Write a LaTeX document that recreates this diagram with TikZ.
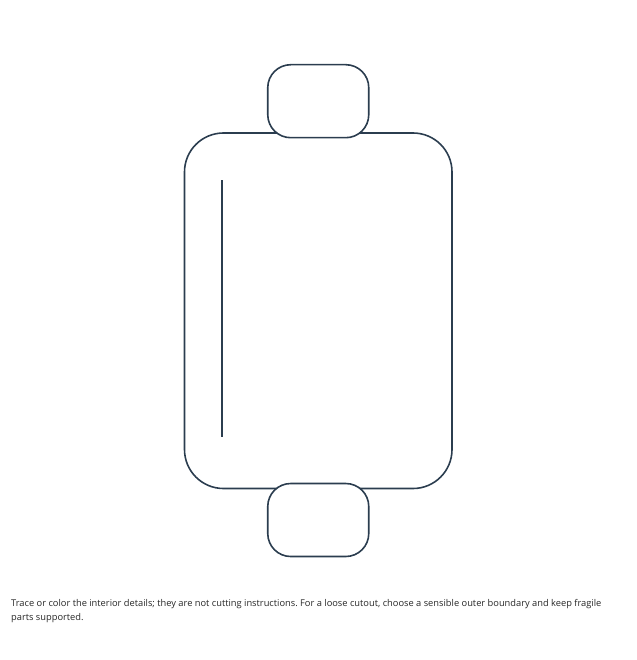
\documentclass[tikz,border=0pt]{standalone}
\usepackage{fontspec}
\setmainfont{Open Sans}
\usetikzlibrary{positioning}

\definecolor{ink}{HTML}{2B3D4F}

\begin{document}
\frenchspacing
\begin{tikzpicture}[x=1bp, y=-1bp,
    body/.style = {draw=ink, line width=1.6bp, rounded corners=39bp, inner sep=0pt, outer sep=0pt,
                   minimum width=267.5bp, minimum height=355.5bp},
    knob/.style = {draw=ink, fill=white, line width=1.6bp, rounded corners=23bp, inner sep=0pt, outer sep=0pt,
                  minimum width=101bp, minimum height=73bp},
    note/.style = {font=\fontsize{9.3bp}{14bp}\selectfont, text=black!85, align=left, inner sep=0pt}]
            \useasboundingbox (0,0) rectangle (637,660);
            \node[body](box) at (318.25,310.75){};
            \node[knob](top)[above=-4.7bp of box]{};
            \node[knob](bottom)[below=-5bp of box]{};
            \coordinate (a) at (221.7,180);
            \coordinate (b) at (221.7,436.5);
            \draw[ink, line width=1.6bp] (a) -- (b);
            \node[note, anchor=north west](text) at (11,599.5){Trace or color the interior details; they are not cutting instructions. For a loose cutout, choose a sensible outer boundary and keep fragile\\parts supported.};
        \end{tikzpicture}
\end{document}
